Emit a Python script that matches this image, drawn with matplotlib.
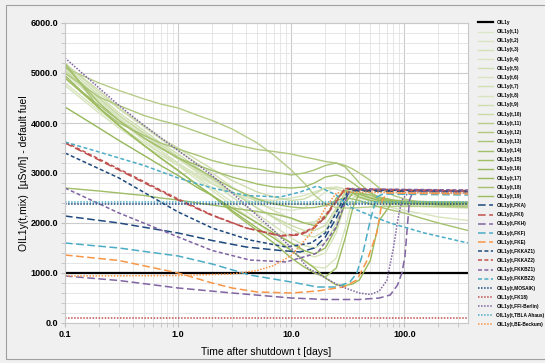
import matplotlib.pyplot as plt
from matplotlib.patches import Rectangle
from matplotlib.ticker import MultipleLocator, LogLocator, NullFormatter

plt.rcParams['font.family'] = ['Liberation Sans', 'DejaVu Sans']

# shared time grid for the 19 OIL1y(t,i) curves [days]
t_days = [0.1, 0.2, 0.3, 0.5, 0.7, 1, 1.5, 2, 3, 5, 7, 10, 13, 16, 20,
          25, 30, 35, 40, 50, 60, 80, 100, 150, 200, 365]

green_labels = ['OIL1y(t,%d)' % i for i in range(1, 20)]
green_colors = ['#dce7c8', '#d7e4bd', '#d3e1b7', '#d7e4bd', '#cfdfb0',
                '#d7e4bd', '#d2e0b5', '#d7e4bd', '#cddcab', '#c9daa6',
                '#b7cd8a', '#afc87e', '#a9c476', '#a3c06c', '#9fbe66',
                '#96b85a', '#9bbb59', '#a5c170', '#9dbc60']
green_values = [
    [5000, 4450, 4100, 3750, 3520, 3300, 3020, 2850, 2600, 2380, 2300, 2250, 2300, 2450, 2620, 2720, 2680, 2600, 2530, 2470, 2440, 2420, 2410, 2400, 2400, 2390],
    [5050, 4450, 4100, 3700, 3450, 3200, 2900, 2700, 2420, 2080, 1850, 1600, 1400, 1320, 1400, 1800, 2400, 2650, 2600, 2500, 2450, 2430, 2420, 2410, 2400, 2400],
    [5100, 4500, 4150, 3780, 3520, 3280, 3000, 2800, 2520, 2180, 1950, 1700, 1550, 1500, 1600, 2000, 2550, 2680, 2600, 2500, 2460, 2440, 2430, 2420, 2420, 2410],
    [5000, 4400, 4050, 3650, 3400, 3150, 2850, 2650, 2350, 2000, 1750, 1450, 1250, 1120, 1100, 1300, 1900, 2500, 2550, 2480, 2440, 2420, 2410, 2400, 2400, 2400],
    [5150, 4550, 4200, 3850, 3600, 3380, 3100, 2900, 2620, 2300, 2100, 1880, 1750, 1720, 1850, 2250, 2600, 2680, 2600, 2500, 2460, 2440, 2430, 2420, 2420, 2410],
    [4800, 4250, 3950, 3600, 3400, 3200, 2950, 2800, 2600, 2450, 2400, 2380, 2370, 2370, 2380, 2400, 2420, 2420, 2410, 2400, 2390, 2380, 2370, 2360, 2350, 2340],
    [5200, 4600, 4280, 3920, 3680, 3450, 3180, 3000, 2720, 2420, 2250, 2080, 2000, 2020, 2150, 2450, 2650, 2650, 2580, 2500, 2460, 2440, 2430, 2420, 2420, 2410],
    [4750, 4200, 3900, 3550, 3350, 3150, 2920, 2780, 2600, 2480, 2450, 2500, 2550, 2620, 2700, 2720, 2680, 2600, 2540, 2450, 2380, 2300, 2250, 2180, 2120, 2050],
    [5180, 4650, 4300, 3950, 3700, 3500, 3250, 3080, 2850, 2620, 2520, 2450, 2480, 2580, 2700, 2680, 2620, 2550, 2500, 2440, 2400, 2370, 2350, 2330, 2320, 2300],
    [5050, 4500, 4150, 3800, 3560, 3330, 3050, 2880, 2620, 2300, 2120, 1950, 1850, 1850, 1950, 2300, 2620, 2700, 2620, 2520, 2470, 2440, 2430, 2420, 2410, 2400],
    [5100, 4800, 4650, 4480, 4380, 4300, 4150, 4050, 3880, 3600, 3360, 3060, 2800, 2560, 2380, 2310, 2300, 2300, 2310, 2320, 2330, 2330, 2330, 2330, 2330, 2320],
    [5000, 4520, 4350, 4150, 4050, 3960, 3820, 3720, 3580, 3470, 3430, 3380, 3320, 3280, 3230, 3200, 3150, 3080, 3000, 2850, 2700, 2550, 2480, 2400, 2360, 2320],
    [5200, 4300, 4000, 3750, 3600, 3480, 3350, 3250, 3150, 3080, 3020, 2960, 3000, 3060, 3150, 3200, 3120, 2950, 2800, 2600, 2500, 2450, 2430, 2420, 2420, 2420],
    [5150, 4400, 4050, 3700, 3500, 3300, 3150, 3050, 2920, 2780, 2720, 2700, 2720, 2800, 2920, 2960, 2900, 2800, 2700, 2600, 2520, 2460, 2440, 2430, 2420, 2410],
    [2700, 2640, 2600, 2550, 2500, 2460, 2400, 2360, 2300, 2230, 2180, 2100, 2000, 1950, 2100, 2500, 2650, 2600, 2520, 2450, 2420, 2400, 2390, 2380, 2370, 2360],
    [4320, 3900, 3650, 3350, 3150, 2950, 2700, 2550, 2300, 2000, 1800, 1600, 1450, 1380, 1500, 1900, 2400, 2600, 2580, 2500, 2450, 2420, 2410, 2400, 2400, 2400],
    [4900, 4300, 3950, 3550, 3300, 3050, 2750, 2550, 2250, 1900, 1700, 1450, 1250, 1100, 900, 760, 750, 780, 860, 1250, 2050, 2450, 2420, 2400, 2400, 2400],
    [4900, 4350, 4050, 3700, 3500, 3300, 3080, 2920, 2700, 2480, 2380, 2320, 2300, 2310, 2350, 2450, 2500, 2480, 2450, 2380, 2320, 2250, 2200, 2080, 2000, 1850],
    [4950, 4300, 3950, 3550, 3300, 3050, 2750, 2550, 2220, 1850, 1600, 1300, 1120, 1000, 920, 1100, 1700, 2300, 2600, 2560, 2480, 2440, 2420, 2410, 2400, 2400],
]

# constant reference value
oil1y_value = 1000

# single-model curves
fka_t = [0.1, 0.3, 1, 2, 4, 8, 12, 16, 20, 25, 29, 33, 40, 365]
fka_v = [2140, 2000, 1800, 1650, 1520, 1450, 1420, 1500, 1720, 2100, 2400, 2650, 2640, 2620]
fki_t = [0.1, 0.3, 1, 2, 4, 8, 12, 16, 20, 25, 30, 35, 365]
fki_v = [3600, 3060, 2460, 2150, 1900, 1740, 1760, 1900, 2120, 2420, 2700, 2680, 2650]
fkh_t = [0.1, 0.3, 1, 3, 10, 20, 40, 60, 75, 87, 95, 101, 106, 111, 120, 365]
fkh_v = [940, 850, 700, 600, 500, 470, 470, 500, 560, 760, 1000, 1320, 1900, 2460, 2640, 2640]
fkf_t = [0.1, 0.3, 1, 2, 4.3, 10, 17, 25, 33, 38, 43, 50, 57, 65, 365]
fkf_v = [1600, 1500, 1340, 1180, 960, 820, 720, 720, 820, 1000, 1400, 2060, 2520, 2580, 2560]
fke_t = [0.1, 0.3, 1, 2, 3, 5, 10, 17, 29, 38, 47, 57, 64, 70, 365]
fke_v = [1360, 1250, 1000, 800, 700, 620, 600, 640, 720, 860, 1260, 1800, 2460, 2600, 2580]
fkkaz1_t = [0.1, 0.3, 1, 2, 4.3, 9, 15, 20, 23, 27, 30, 32, 40, 365]
fkkaz1_v = [3400, 2900, 2220, 1900, 1660, 1520, 1600, 1800, 2060, 2350, 2520, 2680, 2660, 2640]
fkkaz2_t = [0.1, 0.3, 1, 2, 4, 8, 12, 16, 20, 25, 30, 35, 365]
fkkaz2_v = [3620, 3080, 2480, 2160, 1900, 1750, 1780, 1920, 2150, 2450, 2690, 2670, 2640]
fkkbz1_t = [0.1, 0.3, 1, 2, 4.3, 9, 17, 25, 31, 33, 40, 365]
fkkbz1_v = [2700, 2200, 1720, 1450, 1260, 1220, 1400, 1920, 2520, 2680, 2680, 2660]
fkkbz2_t = [0.1, 0.2, 0.5, 1, 2, 4, 8, 12, 17, 25, 33, 50, 75, 150, 365]
fkkbz2_v = [3620, 3420, 3150, 2900, 2700, 2550, 2520, 2620, 2740, 2560, 2320, 2150, 2000, 1800, 1600]
mosaik_t = [0.1, 365]
mosaik_v = [2380, 2380]
fk18_t = [0.1, 365]
fk18_v = [100, 100]
ffi_t = [0.1, 0.2, 0.3, 0.5, 1, 2, 3, 5, 7, 10, 14, 18, 25, 30, 40, 50, 60, 70, 80, 88, 95, 110, 150, 365]
ffi_v = [5300, 4700, 4350, 3950, 3450, 2950, 2600, 2150, 1850, 1500, 1100, 960, 780, 700, 600, 570, 640, 850, 1500, 2100, 2460, 2620, 2620, 2600]
tbla_t = [0.1, 365]
tbla_v = [2430, 2430]
beckum_t = [0.1, 1, 3, 5, 7, 10, 15, 20, 25, 30, 365]
beckum_v = [940, 950, 980, 1050, 1150, 1350, 1800, 2300, 2600, 2620, 2600]

model_labels = ['OIL1y(t,FKA)', 'OIL1y(t,FKI)', 'OIL1y(t,FKH)', 'OIL1y(t,FKF)',
                'OIL1y(t,FKE)', 'OIL1y(t,FKKAZ1)', 'OIL1y(t,FKKAZ2)',
                'OIL1y(t,FKKBZ1)', 'OIL1y(t,FKKBZ2)', 'OIL1y(t,MOSAIK)',
                'OIL1y(t,FK18)', 'OIL1y(t,FFI-Berlin)', 'OIL1y(t,TBLA Ahaus)',
                'OIL1y(t,BE-Beckum)']
model_data = [(fka_t, fka_v), (fki_t, fki_v), (fkh_t, fkh_v), (fkf_t, fkf_v),
              (fke_t, fke_v), (fkkaz1_t, fkkaz1_v), (fkkaz2_t, fkkaz2_v),
              (fkkbz1_t, fkkbz1_v), (fkkbz2_t, fkkbz2_v), (mosaik_t, mosaik_v),
              (fk18_t, fk18_v), (ffi_t, ffi_v), (tbla_t, tbla_v),
              (beckum_t, beckum_v)]

c_blue, c_red, c_purple, c_cyan, c_orange = '#1f497d', '#c0504d', '#8064a2', '#4bacc6', '#f79646'
model_colors = [c_blue, c_red, c_purple, c_cyan, c_orange,
                c_blue, c_red, c_purple, c_cyan,
                c_blue, c_red, c_purple, c_cyan, c_orange]
long_dash = (0, (5, 2.3))
short_dash = (0, (2.6, 1.6))
dots = (0, (1, 1))
model_styles = [long_dash] * 5 + [short_dash] * 4 + [dots] * 5

fig = plt.figure(figsize=(5.45, 3.63), dpi=100, facecolor='#f0f0f0')
ax = fig.add_axes([65 / 545, 1 - 323 / 363, 403 / 545, 300 / 363])
ax.set_facecolor('white')

ax.plot([t_days[0], t_days[-1]], [oil1y_value, oil1y_value], color='black', lw=1.6, label='OIL1y')
for vals, col, lab in zip(green_values, green_colors, green_labels):
    ax.plot(t_days, vals, color=col, lw=1.0, label=lab)
for (tt, vv), col, ls, lab in zip(model_data, model_colors, model_styles, model_labels):
    ax.plot(tt, vv, color=col, lw=1.1, linestyle=ls, label=lab)

ax.set_xscale('log')
ax.set_xlim(0.1, 365)
ax.set_ylim(0, 6000)
ax.set_xticks([0.1, 1, 10, 100])
ax.set_xticklabels(['0.1', '1.0', '10.0', '100.0'], fontweight='bold')
ax.xaxis.set_minor_locator(LogLocator(base=10, subs=range(2, 10)))
ax.xaxis.set_minor_formatter(NullFormatter())
ax.set_yticks(range(0, 6001, 1000))
ax.set_yticklabels(['%.1f' % v for v in range(0, 6001, 1000)], fontweight='bold')
ax.yaxis.set_minor_locator(MultipleLocator(200))
ax.tick_params(which='both', direction='out', length=3, color='#bfbfbf', labelsize=6.5, pad=2)
ax.grid(which='major', color='#cccccc', lw=0.8)
ax.grid(which='minor', color='#e2e2e2', lw=0.6)
ax.set_axisbelow(True)
for sp in ax.spines.values():
    sp.set_color('#c8c8c8')
    sp.set_linewidth(0.8)

ax.set_xlabel('Time after shutdown t [days]', fontsize=7.5, labelpad=6)
ax.set_ylabel('OIL1y(t,mix)  [\u00b5Sv/h] - default fuel', fontsize=7.5, labelpad=1)

leg = ax.legend(loc='upper left', bbox_to_anchor=(478 / 545, 1 - 20 / 363),
                bbox_transform=fig.transFigure, frameon=False,
                prop={'weight': 'bold', 'size': 3.4}, labelspacing=0.88,
                handlelength=3.2, handletextpad=0.7, borderpad=0, borderaxespad=0)

fig.patches.append(Rectangle((6 / 545, 4 / 363), 560 / 545, 354 / 363, transform=fig.transFigure,
                             fill=False, edgecolor='#a0a0a0', lw=0.8))

fig.savefig('out.png', dpi=100, facecolor=fig.get_facecolor())
